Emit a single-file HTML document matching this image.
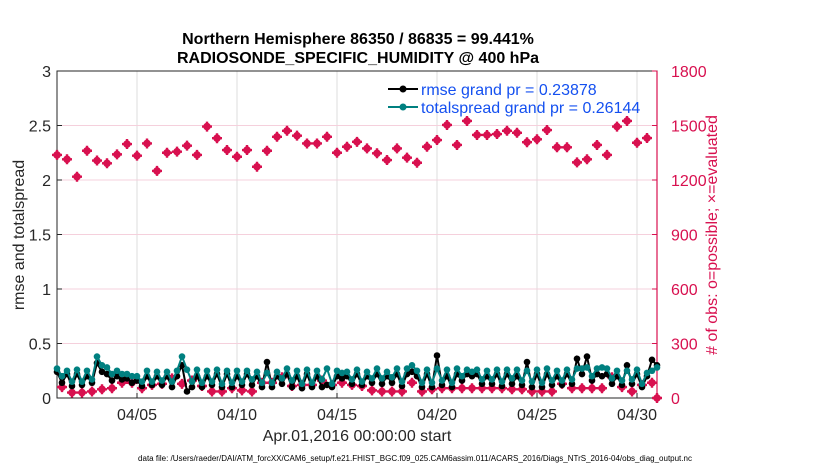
<!DOCTYPE html>
<html><head><meta charset="utf-8"><style>
body{margin:0;background:#fff;}
svg{font-family:"Liberation Sans",sans-serif;}
</style></head><body>
<svg id="c" width="830" height="470" viewBox="0 0 830 470"></svg>
<script>
const xTickDays=[4,9,14,19,24,29];
const xTickLabels=["04/05","04/10","04/15","04/20","04/25","04/30"];
const yLeftTicks=[0,0.5,1,1.5,2,2.5,3];
const yLeftLabels=["0","0.5","1","1.5","2","2.5","3"];
const yRightTicks=[0,300,600,900,1200,1500,1800];
// obs counts, 12-hourly from day 0
const obsPossible=[1338,1314,1218,1361,1307,1292,1341,1398,1334,1401,1250,1350,1356,1389,1338,1494,1430,1365,1328,1365,1273,1361,1438,1471,1444,1401,1401,1438,1350,1383,1410,1374,1347,1310,1374,1323,1295,1383,1420,1503,1393,1525,1448,1448,1453,1471,1460,1408,1424,1475,1380,1380,1297,1314,1393,1338,1494,1525,1405,1431,0];
// lower pink series (left axis), 12-hourly offset by 0.25 day
const lowerPink=[0.10,0.05,0.05,0.06,0.08,0.09,0.14,0.14,0.09,0.12,0.13,0.18,0.13,0.16,0.11,0.06,0.06,0.09,0.07,0.06,0.14,0.14,0.19,0.11,0.12,0.12,0.16,0.12,0.14,0.12,0.11,0.07,0.06,0.06,0.06,0.14,0.06,0.08,0.09,0.09,0.09,0.09,0.09,0.09,0.09,0.08,0.08,0.06,0.06,0.06,0.13,0.09,0.09,0.09,0.09,0.19,0.10,0.06,0.12,0.14];
const teal=[0.27,0.2,0.25,0.15,0.26,0.15,0.25,0.17,0.38,0.3,0.28,0.22,0.25,0.22,0.22,0.2,0.2,0.15,0.25,0.15,0.24,0.16,0.24,0.15,0.25,0.38,0.26,0.15,0.26,0.14,0.25,0.15,0.26,0.13,0.25,0.14,0.25,0.15,0.25,0.17,0.24,0.14,0.23,0.14,0.24,0.18,0.27,0.16,0.25,0.13,0.26,0.14,0.25,0.17,0.27,0.13,0.25,0.23,0.24,0.17,0.26,0.15,0.24,0.18,0.27,0.18,0.24,0.19,0.27,0.15,0.27,0.3,0.25,0.14,0.26,0.14,0.27,0.16,0.26,0.14,0.27,0.2,0.26,0.24,0.26,0.17,0.25,0.17,0.26,0.15,0.26,0.18,0.26,0.16,0.25,0.15,0.26,0.14,0.27,0.16,0.25,0.16,0.26,0.17,0.27,0.27,0.28,0.2,0.27,0.28,0.27,0.18,0.25,0.16,0.25,0.17,0.26,0.13,0.23,0.25,0.28];
const rmse=[0.24,0.14,0.22,0.11,0.22,0.12,0.2,0.14,0.32,0.24,0.22,0.16,0.2,0.17,0.18,0.14,0.16,0.11,0.2,0.12,0.2,0.12,0.2,0.1,0.2,0.3,0.06,0.1,0.2,0.1,0.2,0.12,0.22,0.1,0.22,0.1,0.2,0.12,0.22,0.12,0.2,0.1,0.33,0.1,0.2,0.13,0.22,0.1,0.2,0.09,0.22,0.1,0.2,0.1,0.12,0.1,0.2,0.18,0.2,0.13,0.22,0.12,0.2,0.14,0.22,0.13,0.2,0.14,0.22,0.11,0.22,0.24,0.2,0.1,0.22,0.1,0.39,0.12,0.2,0.1,0.22,0.16,0.22,0.2,0.22,0.13,0.2,0.13,0.22,0.11,0.22,0.13,0.2,0.12,0.33,0.1,0.22,0.1,0.22,0.12,0.2,0.12,0.22,0.13,0.36,0.22,0.38,0.16,0.22,0.2,0.22,0.13,0.2,0.12,0.3,0.13,0.22,0.1,0.2,0.35,0.3];
const L=57,R=657,T=71,B=398;
const xS=d=>L+d*(R-L)/30;
const yL=v=>B-v*(B-T)/3;
const yR=v=>B-v*(B-T)/1800;
const svg=document.getElementById('c');
const NS='http://www.w3.org/2000/svg';
function mk(tag,attrs,parent){const e=document.createElementNS(NS,tag);for(const k in attrs)e.setAttribute(k,attrs[k]);(parent||svg).appendChild(e);return e;}
const PINK='#d8104f',TEAL='#008080';
xTickDays.forEach(d=>{const g=mk('line',{x1:xS(d),x2:xS(d),y1:T,y2:B,stroke:'#dcdcdc','stroke-width':1});

});
yRightTicks.forEach(v=>{if(v===0||v===1800)return;const g=mk('line',{x1:L,x2:R,y1:yR(v),y2:yR(v),stroke:'#f5d0dc','stroke-width':1});

});
const fr=mk('rect',{x:L,y:T,width:R-L,height:B-T,fill:'none',stroke:'#262626','stroke-width':1});


const ra=mk('line',{x1:R,x2:R,y1:T,y2:B,stroke:PINK,'stroke-width':1.2});


yLeftTicks.forEach((v,i)=>{mk('line',{x1:L,x2:L+5,y1:yL(v),y2:yL(v),stroke:'#262626'});
const t=mk('text',{x:L-6,y:yL(v)+6,'text-anchor':'end','font-size':16,fill:'#262626'});t.textContent=yLeftLabels[i];

});
yRightTicks.forEach(v=>{mk('line',{x1:R-5,x2:R,y1:yR(v),y2:yR(v),stroke:PINK});
const t=mk('text',{x:R+14,y:yR(v)+6,'font-size':16,fill:PINK});t.textContent=v;

});
xTickDays.forEach((d,i)=>{mk('line',{x1:xS(d),x2:xS(d),y1:B,y2:B-5,stroke:'#262626'});
const t=mk('text',{x:xS(d),y:B+22,'text-anchor':'middle','font-size':16,fill:'#262626'});t.textContent=xTickLabels[i];

});
function pinkMark(x,y,name){const g=mk('g',{});


mk('circle',{cx:x,cy:y,r:3.8,fill:PINK},g);
mk('path',{d:`M${x-5} ${y}H${x+5}M${x} ${y-5}V${y+5}`,stroke:PINK,'stroke-width':2.4},g);}
obsPossible.forEach((v,i)=>pinkMark(xS(i*0.5),yR(v),'obs-count-point'));
lowerPink.forEach((v,i)=>pinkMark(xS(0.25+i*0.5),yL(v),'lower-obs-point'));
function series(arr,color,name){const pts=arr.map((v,i)=>xS(i*0.25)+','+yL(v)).join(' ');
const p=mk('polyline',{points:pts,fill:'none',stroke:color,'stroke-width':2});


arr.forEach((v,i)=>{const c=mk('circle',{cx:xS(i*0.25),cy:yL(v),r:3.3,fill:color});

});}
series(rmse,'#000','rmse');
series(teal,TEAL,'totalspread');
[[ '#000','rmse grand pr = 0.23878',89],[TEAL,'totalspread grand pr = 0.26144',107]].forEach(([c,l,y],i)=>{
const g=mk('g',{});


mk('line',{x1:388,x2:418,y1:y,y2:y,stroke:c,'stroke-width':2},g);
mk('circle',{cx:403,cy:y,r:3.5,fill:c},g);
const t=mk('text',{x:421,y:y+6,'font-size':16,fill:'#1450f0'},g);t.textContent=l;});
function txt(x,y,s,str,extra,name){const t=mk('text',Object.assign({x:x,y:y,'font-size':s,fill:'#262626'},extra||{}));t.textContent=str;

return t;}
txt(358,44,16,'Northern Hemisphere 86350 / 86835 = 99.441%',{'text-anchor':'middle','font-weight':'bold',fill:'#000'},'chart-title');
txt(358,63,16,'RADIOSONDE_SPECIFIC_HUMIDITY @ 400 hPa',{'text-anchor':'middle','font-weight':'bold',fill:'#000'},'chart-subtitle');
txt(357,441,16,'Apr.01,2016 00:00:00 start',{'text-anchor':'middle'},'x-axis-title');
txt(0,0,16,'rmse and totalspread',{'text-anchor':'middle',transform:'translate(24,235) rotate(-90)'},'y-left-axis-title');
txt(0,0,16,'# of obs: o=possible; \u00d7=evaluated',{'text-anchor':'middle',fill:PINK,transform:'translate(717,235) rotate(-90)'},'y-right-axis-title');
txt(415,461,8,'data file: /Users/raeder/DAI/ATM_forcXX/CAM6_setup/f.e21.FHIST_BGC.f09_025.CAM6assim.011/ACARS_2016/Diags_NTrS_2016-04/obs_diag_output.nc',{'text-anchor':'middle',fill:'#000'},'footer-data-file');
</script>
</body></html>
